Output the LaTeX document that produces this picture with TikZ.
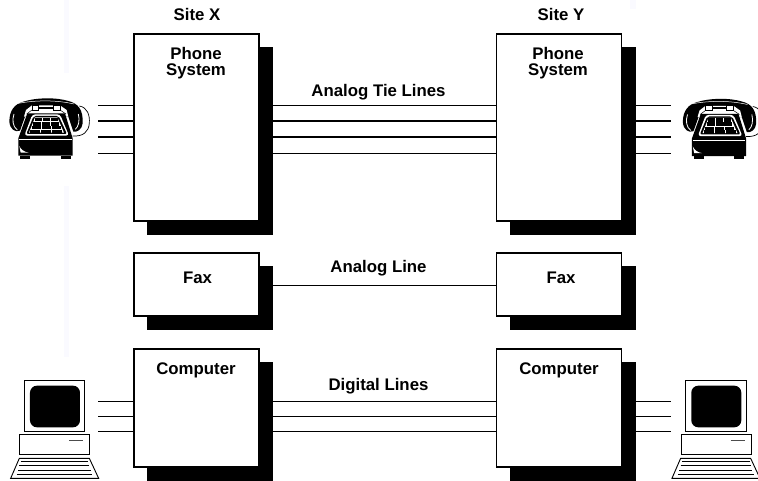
\documentclass[tikz,border=0pt]{standalone}
\usepackage{fontspec}
\setmainfont{Liberation Sans}
\usepackage{tikz}
\usetikzlibrary{shapes.geometric}

\tikzset{
    sitebox/.style={rectangle, draw, line width=1.3pt, fill=white, inner sep=0pt, outer sep=0pt},
    shadowbox/.style={rectangle, fill=black, inner sep=0pt, outer sep=0pt},
    wire/.style={line width=1.4pt},
    caption/.style={font=\bfseries\fontsize{16.8}{16}\selectfont, align=center, inner sep=0pt},
    iconscale/.style={x=0.3333pt,y=-0.3333pt},
    phone/.pic={
        \begin{scope}[iconscale]
        % handset
        \fill[black] (28,95) .. controls (28,60) and (45,42) .. (70,35) .. controls (110,22) and (170,22) .. (205,33)
            .. controls (235,40) and (250,60) .. (248,100) .. controls (246,118) and (232,127) .. (220,125)
            -- (205,80) -- (75,80) -- (60,122) .. controls (45,128) and (30,118) .. (28,95) -- cycle;
        \draw[white, line width=0.5pt] (55,40) .. controls (110,30) and (170,30) .. (222,42);
        \draw[white, line width=0.8pt] (42,72) .. controls (36,90) and (38,110) .. (52,120);
        \draw[white, line width=0.8pt] (235,72) .. controls (240,90) and (236,110) .. (226,118);
        % cradle
        \fill[white] (78,60) -- (96,46) -- (180,46) -- (200,60) -- (205,80) -- (72,80) -- cycle;
        \draw[black, line width=0.8pt, fill=white] (96,46) rectangle (116,60);
        \draw[black, line width=0.8pt, fill=white] (160,46) rectangle (180,60);
        \draw[black, line width=2pt] (116,53) -- (160,53);
        \draw[black, line width=0.5pt] (96,60) -- (80,72) (180,60) -- (198,72);
        % cord
        \draw[black, line width=0.7pt] (238,48) .. controls (262,52) and (270,75) .. (268,100)
            .. controls (266,125) and (250,140) .. (218,138);
        % housing
        \fill[black] (55,145) -- (82,70) -- (195,70) -- (218,145) -- (218,197) -- (55,197) -- cycle;
        \fill[white, rounded corners=3pt] (73,137) -- (97,73) -- (180,73) -- (207,137) -- cycle;
        \fill[black, rounded corners=2pt] (79,132) -- (101,78) -- (176,78) -- (201,132) -- cycle;
        \fill[white] (87,128) -- (105,82) -- (172,82) -- (192,128) -- cycle;
        % keys
        \foreach \row/\xl/\xr/\yt/\yb in {0/103/174/83/94, 1/99/178/96/107, 2/94/183/109/118, 3/90/188/120/130}{
            \pgfmathsetmacro{\wd}{(\xr-\xl)/3}
            \foreach \col in {0,1,2}{
                \fill[black] ({\xl+\col*\wd+1.2},\yt) rectangle ({\xl+(\col+1)*\wd-1.2},\yb);
            }
        }
        % base
        \fill[white] (58,168) -- (62,188) -- (86,188) .. controls (72,186) and (62,178) .. (58,168) -- cycle;
        \draw[white, line width=0.5pt] (58,148) -- (215,148);
        \fill[black] (60,197) rectangle (90,206);
        \fill[black] (182,197) rectangle (212,206);
        \end{scope}
    },
    computer/.pic={
        \begin{scope}[iconscale]
        % monitor
        \draw[black, line width=1pt, fill=white] (73,123) rectangle (255,275);
        \fill[black, rounded corners=7pt] (90,137) rectangle (240,262);
        % system unit
        \draw[black, line width=1pt, fill=white] (60,284) rectangle (270,345);
        \draw[black!70, line width=1pt] (208,302) -- (250,302);
        % keyboard
        \draw[black, line width=0.9pt, fill=white] (58,355) -- (268,355) -- (296,415) -- (32,415) -- cycle;
        \draw[black, line width=0.8pt] (62,365) -- (265,365) (58,376) -- (268,376)
            (54,390) -- (272,390) (50,402) -- (277,402);
        \end{scope}
    }
}

\begin{document}
\begin{tikzpicture}[x=1pt,y=-1pt]
    \useasboundingbox (0,0) rectangle (758,481);

    % pale margin bars
    \fill[black!5!blue!2!white] (64,0) rectangle (69,73.5);
    \fill[black!5!blue!2!white] (64,186) rectangle (69,356.5);
    \fill[black!5!blue!2!white] (630,0) rectangle (636,9);

    % Site X
    \node[shadowbox, minimum width=126pt, minimum height=188pt](sysxs) at (210,141){};
    \node[sitebox, minimum width=125pt, minimum height=187pt](sysx) at (196.5,127.5){};
    \node[shadowbox, minimum width=126pt, minimum height=64pt](faxxs) at (210,298){};
    \node[sitebox, minimum width=125pt, minimum height=63pt](faxx) at (196.5,284.5){};
    \node[shadowbox, minimum width=126pt, minimum height=119pt](compxs) at (210,421.5){};
    \node[sitebox, minimum width=125pt, minimum height=118pt](compx) at (196.5,408){};

    % Site Y
    \node[shadowbox, minimum width=126pt, minimum height=188pt](sysys) at (572.5,141){};
    \node[sitebox, minimum width=125pt, minimum height=187pt](sysy) at (559,127.5){};
    \node[shadowbox, minimum width=126pt, minimum height=64pt](faxys) at (572.5,298){};
    \node[sitebox, minimum width=125pt, minimum height=63pt](faxy) at (559,284.5){};
    \node[shadowbox, minimum width=126pt, minimum height=119pt](compys) at (572.5,421.5){};
    \node[sitebox, minimum width=125pt, minimum height=118pt](compy) at (559,408){};

    % free ends of the short lines
    \coordinate (stubxl) at (98,0);
    \coordinate (stubyr) at (671,0);

    \foreach \y in {105.5,121,137,153.5}{
        \draw[wire] (stubxl |- 0,\y) -- (sysx.west |- 0,\y);
        \draw[wire] (sysxs.east |- 0,\y) -- (sysy.west |- 0,\y);
        \draw[wire] (sysys.east |- 0,\y) -- (stubyr |- 0,\y);
    }
    \draw[wire] (faxxs.east |- 0,285.5) -- (faxy.west |- 0,285.5);
    \foreach \y in {401.5,416.5,431.5}{
        \draw[wire] (stubxl |- 0,\y) -- (compx.west |- 0,\y);
        \draw[wire] (compxs.east |- 0,\y) -- (compy.west |- 0,\y);
        \draw[wire] (compys.east |- 0,\y) -- (stubyr |- 0,\y);
    }

    \pic (phonex) at (0,90) {phone};
    \pic (phoney) at (673.5,90.5) {phone};
    \pic (pcx) at (0,340) {computer};
    \pic (pcy) at (661.3,340) {computer};

    \node[caption](sitex) at (197,14){Site X};
    \node[caption](sitey) at (561,14){Site Y};
    \node[caption](sysxt) at (196,63){Phone\\System};
    \node[caption](sysyt) at (558,63){Phone\\System};
    \node[caption](tiet) at (378.5,92){Analog Tie Lines};
    \node[caption](faxxt) at (197.5,278){Fax};
    \node[caption](faxyt) at (561,278){Fax};
    \node[caption](linet) at (378.5,268){Analog Line};
    \node[caption](compxt) at (196,370){Computer};
    \node[caption](compyt) at (559,370){Computer};
    \node[caption](digt) at (378.5,386){Digital Lines};
\end{tikzpicture}
\end{document}
